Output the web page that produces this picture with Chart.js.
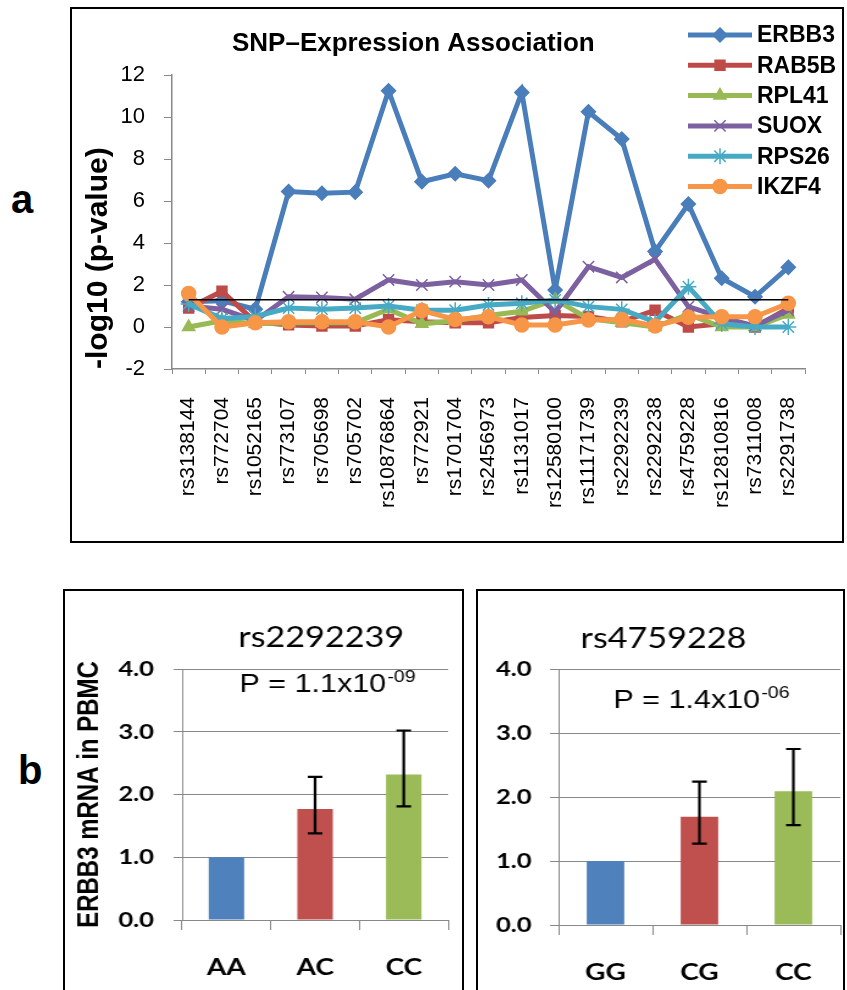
<!DOCTYPE html>
<html>
<head>
<meta charset="utf-8">
<script src="https://cdn.jsdelivr.net/npm/chart.js@4.4.1/dist/chart.umd.min.js"></script>
<style>
  body { margin: 0; background: #fff; width: 847px; height: 990px; overflow: hidden; position: relative; }
  .box { position: absolute; border: 2px solid #000; box-sizing: border-box; }
  .tag { position: absolute; font: bold 40px "Liberation Sans", Arial, sans-serif; line-height: 1; }
  /* bottom panels are stretched horizontally in the original figure */
  .stretch { position: absolute; left: 0; top: 0; transform-origin: 0 0; transform: scaleX(1.22); }
</style>
</head>
<body>

<div class="tag" style="left:11px; top:179px;">a</div>
<div class="tag" style="left:18px; top:750px;">b</div>

<div class="box" style="left:70px; top:7px; width:774px; height:536px;">
  <canvas id="snpChart" width="770" height="532"></canvas>
</div>

<div class="box" style="left:63px; top:589px; width:401px; height:430px;">
  <div class="stretch"><canvas id="barA" width="325" height="400"></canvas></div>
</div>

<div class="box" style="left:476px; top:589px; width:369px; height:430px;">
  <div class="stretch"><canvas id="barB" width="300" height="400"></canvas></div>
</div>

<script>
// ---- panel a data ----
const snps = ['rs3138144', 'rs772704', 'rs1052165', 'rs773107', 'rs705698', 'rs705702',
    'rs10876864', 'rs772921', 'rs1701704', 'rs2456973', 'rs1131017', 'rs12580100',
    'rs11171739', 'rs2292239', 'rs2292238', 'rs4759228', 'rs12810816', 'rs7311008', 'rs2291738'];

const erbb3 = [1.2, 1.25, 0.85, 6.45, 6.37, 6.42, 11.25, 6.92, 7.3, 6.97, 11.17, 1.76, 10.25, 8.95, 3.6, 5.86, 2.32, 1.44, 2.84];
const rab5b = [0.9, 1.7, 0.25, 0.1, 0.05, 0.05, 0.35, 0.25, 0.2, 0.2, 0.45, 0.55, 0.5, 0.25, 0.8, 0.0, 0.15, 0.0, 0.9];
const rpl41 = [0.0, 0.3, 0.15, 0.2, 0.2, 0.2, 0.85, 0.15, 0.3, 0.55, 0.75, 1.3, 0.4, 0.2, 0.0, 0.6, 0.0, 0.0, 0.6];
const suox  = [1.0, 0.85, 0.3, 1.44, 1.41, 1.32, 2.24, 2.0, 2.16, 2.0, 2.24, 0.7, 2.87, 2.36, 3.22, 0.97, 0.45, 0.05, 0.8];
const rps26 = [1.1, 0.4, 0.5, 0.9, 0.85, 0.9, 1.0, 0.8, 0.8, 1.05, 1.13, 1.29, 0.97, 0.84, 0.25, 1.92, 0.15, 0.0, 0.0];
const ikzf4 = [1.6, 0.0, 0.2, 0.25, 0.25, 0.25, 0.0, 0.78, 0.36, 0.49, 0.1, 0.1, 0.33, 0.36, 0.05, 0.46, 0.49, 0.49, 1.13];
const threshold = 1.3; // -log10(0.05)

// ---- panel b data ----
const genoA = ['AA', 'AC', 'CC'];
const meanA = [1.0, 1.77, 2.32];
const lowA  = [null, 1.38, 1.81];
const highA = [null, 2.28, 3.02];

const genoB = ['GG', 'CG', 'CC'];
const meanB = [1.0, 1.69, 2.09];
const lowB  = [null, 1.27, 1.56];
const highB = [null, 2.24, 2.75];

const barColors = ['#4F81BD', '#C0504D', '#9BBB59'];

Chart.defaults.font.family = '"Liberation Sans", Arial, sans-serif';
Chart.defaults.color = '#000';
Chart.defaults.animation = false;

const series = [
    { label: 'ERBB3', data: erbb3, color: '#4A7EBB', style: 'rectRot', r: 7 },
    { label: 'RAB5B', data: rab5b, color: '#BE4B48', style: 'rect', r: 7 },
    { label: 'RPL41', data: rpl41, color: '#98B954', style: 'triangle', r: 7 },
    { label: 'SUOX', data: suox, color: '#7D60A0', style: 'crossRot', r: 8 },
    { label: 'RPS26', data: rps26, color: '#46AAC5', style: 'star', r: 8 },
    { label: 'IKZF4', data: ikzf4, color: '#F79646', style: 'circle', r: 7 }
];

// title and legend drawn on top of the canvas, legend sits over the plot like the original
const panelA = {
    id: 'panelA',
    afterDraw(chart) {
        const ctx = chart.ctx;
        ctx.save();
        ctx.fillStyle = '#000';
        ctx.font = 'bold 26px "Liberation Sans", Arial, sans-serif';
        ctx.textBaseline = 'alphabetic';
        ctx.textAlign = 'left';
        ctx.fillText('SNP\u2013Expression Association', 160, 42);

        series.forEach((s, i) => {
            const y = 26 + i * 30.3;
            ctx.strokeStyle = s.color;
            ctx.lineWidth = 5;
            ctx.beginPath();
            ctx.moveTo(616, y);
            ctx.lineTo(680, y);
            ctx.stroke();
            ctx.fillStyle = s.color;
            ctx.lineWidth = 1.5;
            Chart.helpers.drawPoint(ctx, { pointStyle: s.style, radius: s.r, rotation: 0, borderWidth: 1.5 }, 648, y);
            ctx.fillStyle = '#000';
            ctx.font = 'bold 23px "Liberation Sans", Arial, sans-serif';
            ctx.textBaseline = 'middle';
            ctx.fillText(s.label, 685, y + 1);
        });
        ctx.restore();
    }
};

const lineSets = series.map((s, i) => ({
    label: s.label,
    data: s.data,
    borderColor: s.color,
    backgroundColor: s.color,
    borderWidth: 5,
    pointStyle: s.style,
    pointRadius: s.r,
    pointBorderWidth: 1.5,
    tension: 0,
    order: -i
}));

lineSets.push({
    label: 'p = 0.05',
    data: snps.map(() => threshold),
    borderColor: '#000',
    borderWidth: 1.5,
    pointRadius: 0,
    order: -20
});

new Chart(document.getElementById('snpChart'), {
    type: 'line',
    data: { labels: snps, datasets: lineSets },
    options: {
        responsive: false,
        layout: { padding: { left: 0, right: 37, top: 66, bottom: 0 } },
        plugins: { legend: { display: false }, tooltip: { enabled: false } },
        scales: {
            x: {
                offset: true,
                grid: { offset: true, drawOnChartArea: false, drawTicks: true, tickLength: 5, color: '#888' },
                border: { color: '#888', width: 1.5 },
                ticks: { autoSkip: false, minRotation: 90, maxRotation: 90, padding: 23, font: { size: 21 } },
                afterFit(scale) { scale.height = 172; }
            },
            y: {
                min: -2,
                max: 12,
                ticks: { stepSize: 2, padding: 19, font: { size: 22 } },
                grid: { drawOnChartArea: false, drawTicks: true, tickLength: 8, color: '#888' },
                border: { color: '#888', width: 1.5 },
                title: {
                    display: true,
                    text: '-log10 (p-value)',
                    align: 'start',
                    font: { size: 30, weight: 'bold' },
                    padding: { top: 9, bottom: 0 }
                },
                afterFit(scale) { scale.width = 100; }
            }
        }
    },
    plugins: [panelA]
});

// error bars and annotation text for the bar panels
const errorBars = {
    id: 'errorBars',
    afterDatasetsDraw(chart, args, opts) {
        const { ctx, scales: { x, y } } = chart;
        ctx.save();
        ctx.strokeStyle = '#000';
        ctx.lineWidth = 2.2;
        opts.low.forEach((lo, i) => {
            const hi = opts.high[i];
            if (lo == null || hi == null) return;
            const px = x.getPixelForValue(i);
            const top = y.getPixelForValue(hi);
            const bot = y.getPixelForValue(lo);
            ctx.beginPath();
            ctx.moveTo(px, top); ctx.lineTo(px, bot);
            ctx.moveTo(px - 6, top); ctx.lineTo(px + 6, top);
            ctx.moveTo(px - 6, bot); ctx.lineTo(px + 6, bot);
            ctx.stroke();
        });
        ctx.restore();
    }
};

const notes = {
    id: 'notes',
    afterDraw(chart, args, opts) {
        const ctx = chart.ctx;
        ctx.save();
        ctx.fillStyle = '#000';
        ctx.textBaseline = 'alphabetic';
        ctx.font = '28px Lato, "Open Sans", sans-serif';
        ctx.textAlign = 'center';
        ctx.fillText(opts.title, opts.titleX, opts.titleY);

        ctx.textAlign = 'left';
        ctx.font = '25px "Liberation Sans", Arial, sans-serif';
        const main = 'P = ' + opts.p;
        ctx.fillText(main, opts.pX, opts.pY);
        const w = ctx.measureText(main).width;
        ctx.font = '16px "Liberation Sans", Arial, sans-serif';
        ctx.fillText(opts.exp, opts.pX + w + 1, opts.pY - 10);
        ctx.restore();
    }
};

function barChart(id, labels, means, low, high, note, yAxisWidth, xAxisHeight, padRight, showTitle) {
    return new Chart(document.getElementById(id), {
        type: 'bar',
        data: {
            labels: labels,
            datasets: [{
                data: means,
                backgroundColor: barColors,
                barPercentage: 0.4,
                categoryPercentage: 1
            }]
        },
        options: {
            responsive: false,
            layout: { padding: { left: 0, right: padRight, top: 78, bottom: 0 } },
            plugins: {
                legend: { display: false },
                tooltip: { enabled: false },
                errorBars: { low: low, high: high },
                notes: note
            },
            scales: {
                x: {
                    grid: { offset: true, drawOnChartArea: false, drawTicks: true, tickLength: 10, color: '#888' },
                    border: { color: '#888' },
                    ticks: { padding: 24, font: { family: 'Lato, "Open Sans", sans-serif', size: 23, weight: 'bold' } },
                    afterFit(scale) { scale.height = xAxisHeight; }
                },
                y: {
                    min: 0,
                    max: 4,
                    ticks: {
                        stepSize: 1,
                        padding: showTitle ? 16 : 15,
                        font: { family: 'Lato, "Open Sans", sans-serif', size: 21, weight: 'bold' },
                        callback: v => v.toFixed(1)
                    },
                    grid: { color: '#888', tickLength: 7 },
                    border: { color: '#888' },
                    title: {
                        display: showTitle,
                        text: 'ERBB3 mRNA in PBMC',
                        font: { size: 24, weight: 'bold' },
                        padding: { top: 6, bottom: 0 }
                    },
                    afterFit(scale) { scale.width = yAxisWidth; }
                }
            }
        },
        plugins: [errorBars, notes]
    });
}

barChart('barA', genoA, meanA, lowA, highA,
    { title: 'rs2292239', titleX: 210, titleY: 56, p: '1.1x10', exp: '-09', pX: 143, pY: 101 },
    96, 71, 11, true);

barChart('barB', genoB, meanB, lowB, highB,
    { title: 'rs4759228', titleX: 152, titleY: 57, p: '1.4x10', exp: '-06', pX: 111, pY: 117 },
    66, 66, 3, false);
</script>
</body>
</html>
